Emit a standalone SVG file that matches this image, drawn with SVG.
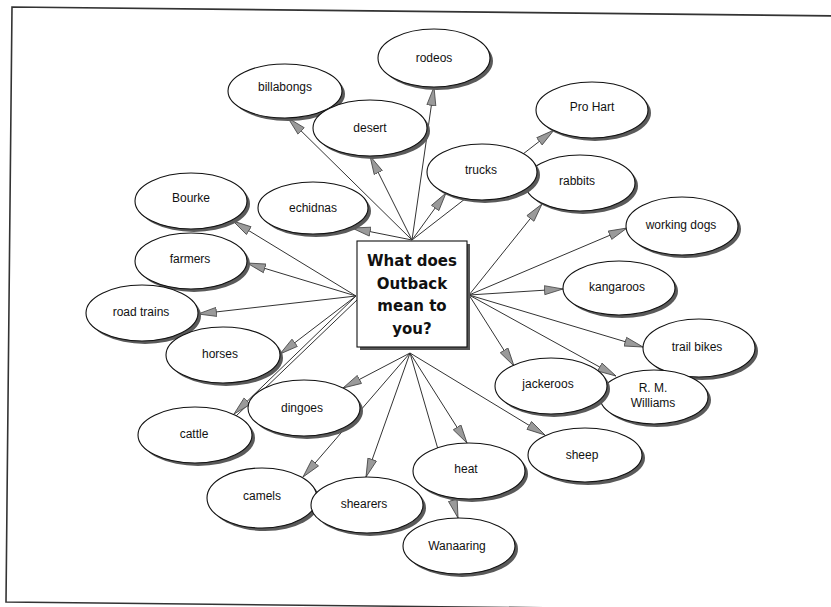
<svg xmlns="http://www.w3.org/2000/svg" width="831" height="607" viewBox="0 0 831 607">
<style>
.sh{fill:#5a5a5a;stroke:none}
.nd{fill:#fff;stroke:#111;stroke-width:1.1}
.lb{font-family:"Liberation Sans",Arial,sans-serif;font-size:12px;fill:#111;text-anchor:middle}
.cn{stroke:#333;stroke-width:1;fill:none;marker-end:url(#ah)}
.ct{font-family:"DejaVu Sans","Liberation Sans",sans-serif;font-weight:bold;font-size:15px;fill:#111;text-anchor:middle}
</style>
<defs>
<marker id="ah" markerUnits="userSpaceOnUse" markerWidth="22" markerHeight="12" refX="19" refY="5.5" orient="auto">
<path d="M0.5,1 L19,5.5 L0.5,10 z" fill="#9a9a9a" stroke="#444" stroke-width="0.8"/>
</marker>
</defs>
<rect width="831" height="607" fill="#fff"/>
<path d="M840,16 L12,7 L6,602 L840,611" fill="none" stroke="#333" stroke-width="1.6"/>
<g id="connectors">
<line class="cn" x1="412" y1="240" x2="288" y2="118"/>
<line class="cn" x1="412" y1="240" x2="370" y2="156"/>
<line class="cn" x1="412" y1="240" x2="434" y2="87"/>
<line class="cn" x1="412" y1="240" x2="446" y2="193"/>
<line class="cn" x1="412" y1="240" x2="352" y2="228"/>
<line class="cn" x1="412" y1="240" x2="554" y2="130"/>
<line class="cn" x1="469" y1="295" x2="542" y2="204"/>
<line class="cn" x1="469" y1="295" x2="627" y2="228"/>
<line class="cn" x1="469" y1="295" x2="563" y2="289"/>
<line class="cn" x1="469" y1="295" x2="643" y2="347"/>
<line class="cn" x1="469" y1="295" x2="616" y2="376"/>
<line class="cn" x1="469" y1="295" x2="514" y2="366"/>
<line class="cn" x1="410" y1="353" x2="545" y2="435"/>
<line class="cn" x1="410" y1="353" x2="467" y2="443"/>
<line class="cn" x1="410" y1="353" x2="458" y2="518"/>
<line class="cn" x1="410" y1="353" x2="366" y2="477"/>
<line class="cn" x1="410" y1="353" x2="303" y2="477"/>
<line class="cn" x1="410" y1="353" x2="343" y2="388"/>
<line class="cn" x1="356" y1="296" x2="233" y2="221"/>
<line class="cn" x1="356" y1="296" x2="247" y2="263"/>
<line class="cn" x1="356" y1="296" x2="198" y2="314"/>
<line class="cn" x1="356" y1="296" x2="280" y2="354"/>
<line stroke="#333" stroke-width="1" x1="358" y1="299" x2="236" y2="416"/>
<line class="cn" x1="356" y1="296" x2="234" y2="414"/>
</g>
<g id="rodeos"><ellipse class="sh" cx="437" cy="61" rx="56" ry="29"/><ellipse class="nd" cx="434" cy="58" rx="56" ry="29"/><text class="lb" x="434" y="62">rodeos</text></g>
<g id="billabongs"><ellipse class="sh" cx="288" cy="94" rx="57" ry="27"/><ellipse class="nd" cx="285" cy="91" rx="57" ry="27"/><text class="lb" x="285" y="91">billabongs</text></g>
<g id="desert"><ellipse class="sh" cx="373" cy="131" rx="57" ry="28"/><ellipse class="nd" cx="370" cy="128" rx="57" ry="28"/><text class="lb" x="370" y="132">desert</text></g>
<g id="bourke"><ellipse class="sh" cx="194" cy="204" rx="56" ry="28"/><ellipse class="nd" cx="191" cy="201" rx="56" ry="28"/><text class="lb" x="191" y="202">Bourke</text></g>
<g id="echidnas"><ellipse class="sh" cx="316" cy="211" rx="55" ry="26"/><ellipse class="nd" cx="313" cy="208" rx="55" ry="26"/><text class="lb" x="313" y="212">echidnas</text></g>
<g id="prohart"><ellipse class="sh" cx="595" cy="113" rx="56" ry="28"/><ellipse class="nd" cx="592" cy="110" rx="56" ry="28"/><text class="lb" x="592" y="111">Pro Hart</text></g>
<g id="rabbits"><ellipse class="sh" cx="583" cy="186" rx="55" ry="28"/><ellipse class="nd" cx="580" cy="183" rx="55" ry="28"/><text class="lb" x="577" y="185">rabbits</text></g>
<g id="trucks"><ellipse class="sh" cx="485" cy="175" rx="55" ry="28"/><ellipse class="nd" cx="482" cy="172" rx="55" ry="28"/><text class="lb" x="481" y="174">trucks</text></g>
<g id="workingdogs"><ellipse class="sh" cx="685" cy="229" rx="56" ry="29"/><ellipse class="nd" cx="682" cy="226" rx="56" ry="29"/><text class="lb" x="681" y="229">working dogs</text></g>
<g id="kangaroos"><ellipse class="sh" cx="622" cy="291" rx="56" ry="27"/><ellipse class="nd" cx="619" cy="288" rx="56" ry="27"/><text class="lb" x="617" y="291">kangaroos</text></g>
<g id="trailbikes"><ellipse class="sh" cx="702" cy="351" rx="56" ry="29"/><ellipse class="nd" cx="699" cy="348" rx="56" ry="29"/><text class="lb" x="697" y="351">trail bikes</text></g>
<g id="rmwilliams"><ellipse class="sh" cx="657" cy="400" rx="54" ry="27"/><ellipse class="nd" cx="654" cy="397" rx="54" ry="27"/><text class="lb" x="653" y="392">R. M.</text><text class="lb" x="653" y="407">Williams</text></g>
<g id="jackeroos"><ellipse class="sh" cx="554" cy="389" rx="56" ry="28"/><ellipse class="nd" cx="551" cy="386" rx="56" ry="28"/><text class="lb" x="548" y="388">jackeroos</text></g>
<g id="sheep"><ellipse class="sh" cx="588" cy="458" rx="57" ry="27"/><ellipse class="nd" cx="585" cy="455" rx="57" ry="27"/><text class="lb" x="582" y="459">sheep</text></g>
<g id="farmers"><ellipse class="sh" cx="194" cy="264" rx="56" ry="28"/><ellipse class="nd" cx="191" cy="261" rx="56" ry="28"/><text class="lb" x="190" y="263">farmers</text></g>
<g id="roadtrains"><ellipse class="sh" cx="145" cy="316" rx="56" ry="28"/><ellipse class="nd" cx="142" cy="313" rx="56" ry="28"/><text class="lb" x="141" y="316">road trains</text></g>
<g id="horses"><ellipse class="sh" cx="226" cy="358" rx="57" ry="28"/><ellipse class="nd" cx="223" cy="355" rx="57" ry="28"/><text class="lb" x="220" y="358">horses</text></g>
<g id="dingoes"><ellipse class="sh" cx="307" cy="411" rx="56" ry="28"/><ellipse class="nd" cx="304" cy="408" rx="56" ry="28"/><text class="lb" x="302" y="412">dingoes</text></g>
<g id="cattle"><ellipse class="sh" cx="198" cy="438" rx="57" ry="28"/><ellipse class="nd" cx="195" cy="435" rx="57" ry="28"/><text class="lb" x="194" y="438">cattle</text></g>
<g id="camels"><ellipse class="sh" cx="265" cy="501" rx="55" ry="30"/><ellipse class="nd" cx="262" cy="498" rx="55" ry="30"/><text class="lb" x="262" y="500">camels</text></g>
<g id="shearers"><ellipse class="sh" cx="370" cy="508" rx="56" ry="28"/><ellipse class="nd" cx="367" cy="505" rx="56" ry="28"/><text class="lb" x="364" y="508">shearers</text></g>
<g id="heat"><ellipse class="sh" cx="472" cy="474" rx="56" ry="28"/><ellipse class="nd" cx="469" cy="471" rx="56" ry="28"/><text class="lb" x="466" y="473">heat</text></g>
<g id="wanaaring"><ellipse class="sh" cx="462" cy="549" rx="56" ry="28"/><ellipse class="nd" cx="459" cy="546" rx="56" ry="28"/><text class="lb" x="457" y="550">Wanaaring</text></g>
<g id="center"><rect x="360" y="244" width="110" height="106" fill="#555"/><rect x="357" y="241" width="110" height="106" fill="#fff" stroke="#111" stroke-width="1.1"/><text class="ct" x="412" y="266">What does</text><text class="ct" x="412" y="289">Outback</text><text class="ct" x="412" y="311">mean to</text><text class="ct" x="412" y="334">you?</text></g>
</svg>
